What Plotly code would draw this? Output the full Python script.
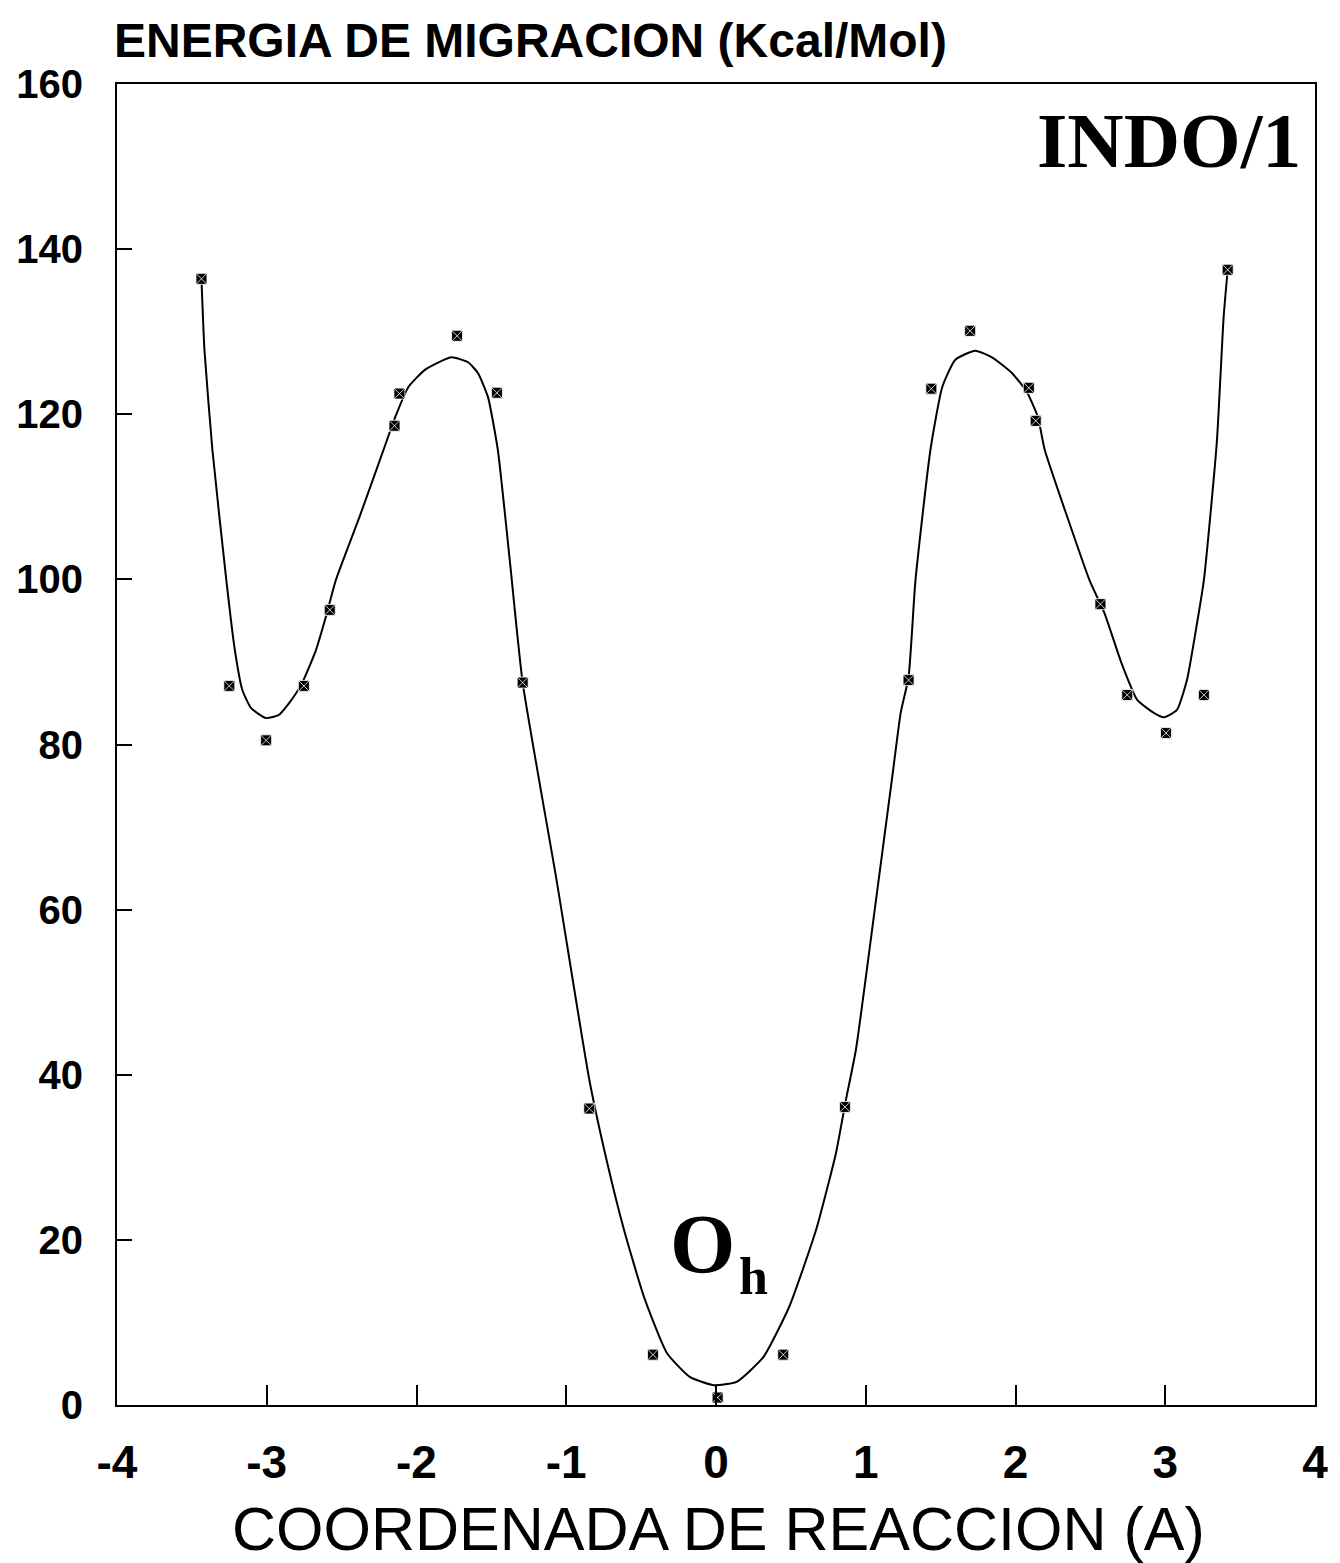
import plotly.graph_objects as go

# Calculated points (markers)
pts_x = [-3.436, -3.25, -3.004, -2.752, -2.579, -2.147, -2.114, -1.729, -1.463, -1.291,
         -0.846, -0.421, 0.011, 0.449, 0.861, 1.286, 1.438, 1.697, 2.089, 2.135,
         2.567, 2.746, 3.005, 3.258, 3.417]
pts_y = [136.4, 87.1, 80.5, 87.1, 96.3, 118.6, 122.5, 129.5, 122.6, 87.5,
         35.9, 6.1, 0.9, 6.1, 36.1, 87.8, 123.1, 130.1, 123.2, 119.2,
         97.0, 86.0, 81.4, 86.0, 137.5]

# Fitted smooth curve
fit_x = [-3.436, -3.416, -3.363, -3.27, -3.216, -3.163, -3.104, -3.004, -2.918, -2.851,
         -2.765, -2.672, -2.606, -2.539, -2.38, -2.22, -2.141, -2.054, -1.942, -1.769,
         -1.656, -1.59, -1.523, -1.457, -1.377, -1.291, -1.065, -0.846, -0.726, -0.614,
         -0.481, -0.328, -0.175, -0.016, 0.137, 0.316, 0.489, 0.668, 0.801, 0.867,
         0.934, 1.06, 1.18, 1.233, 1.286, 1.332, 1.432, 1.511, 1.598, 1.731,
         1.843, 1.976, 2.076, 2.149, 2.195, 2.345, 2.494, 2.594, 2.707, 2.813,
         2.926, 2.992, 3.078, 3.145, 3.205, 3.258, 3.344, 3.39, 3.417]
fit_y = [136.4, 127.8, 115.7, 99.9, 91.8, 86.6, 84.4, 83.2, 83.6, 85.0,
         87.4, 91.4, 95.4, 99.9, 107.6, 115.7, 119.7, 123.3, 125.4, 126.9,
         126.3, 125.0, 122.1, 115.7, 102.3, 87.5, 63.6, 39.4, 29.3, 21.2,
         13.1, 6.3, 3.4, 2.4, 2.8, 5.8, 11.9, 21.2, 30.5, 36.9,
         43.0, 60.0, 76.5, 83.8, 88.2, 99.9, 115.7, 123.3, 126.6, 127.7,
         126.9, 125.0, 122.7, 119.7, 115.7, 107.6, 99.9, 95.9, 89.9, 85.4,
         83.8, 83.3, 84.2, 87.8, 93.9, 99.9, 116.5, 131.8, 137.5]

x_ticks = [-4, -3, -2, -1, 0, 1, 2, 3, 4]
x_tick_text = ["-4", "-3", "-2", "-1", "0", "1", "2", "3", "4"]
y_ticks = [0, 20, 40, 60, 80, 100, 120, 140, 160]
y_tick_text = ["0", "20", "40", "60", "80", "100", "120", "140", "160"]

fig = go.Figure()
fig.add_trace(go.Scatter(x=fit_x, y=fit_y, mode="lines",
                         line=dict(color="black", width=2, shape="spline", smoothing=0.5),
                         showlegend=False, hoverinfo="skip"))
fig.add_trace(go.Scatter(x=pts_x, y=pts_y, mode="markers",
                         marker=dict(symbol="square-x", size=11, color="black",
                                     line=dict(color="white", width=0.8)),
                         showlegend=False))

axis_common = dict(showline=True, linecolor="black", linewidth=2, mirror=True,
                   ticks="inside", tickcolor="black", tickwidth=2,
                   showgrid=False, zeroline=False)

fig.update_xaxes(range=[-4, 4], tickvals=x_ticks,
                 ticktext=["<b>%s</b>" % t for t in x_tick_text], ticklen=20,
                 tickfont=dict(family="Liberation Sans", size=46, color="black"),
                 ticklabelstandoff=16, **axis_common)
fig.update_yaxes(range=[0, 160], tickvals=y_ticks,
                 ticktext=["<b>%s</b>" % t for t in y_tick_text], ticklen=15,
                 tickfont=dict(family="Liberation Sans", size=40, color="black"),
                 ticklabelstandoff=24, **axis_common)

annotations = [
    dict(text="<b>ENERGIA DE MIGRACION (Kcal/Mol)</b>", xref="paper", yref="paper",
         x=-0.004, y=1.033, xanchor="left", yanchor="middle", showarrow=False,
         font=dict(family="Liberation Sans", size=48, color="black")),
    dict(text="COORDENADA DE REACCION (A)", xref="paper", yref="paper",
         x=0.502, y=-0.094, xanchor="center", yanchor="middle", showarrow=False,
         font=dict(family="Liberation Sans", size=61, color="black")),
    dict(text="<b>INDO/1</b>", xref="paper", yref="paper",
         x=0.99, y=0.957, xanchor="right", yanchor="middle", showarrow=False,
         font=dict(family="Liberation Serif", size=78, color="black")),
    dict(text="<b>O</b>", xref="x", yref="y",
         x=-0.09, y=19.4, xanchor="center", yanchor="middle", showarrow=False,
         font=dict(family="Liberation Serif", size=84, color="black")),
    dict(text="<b>h</b>", xref="x", yref="y",
         x=0.25, y=15.6, xanchor="center", yanchor="middle", showarrow=False,
         font=dict(family="Liberation Serif", size=52, color="black")),
]

fig.update_layout(width=1340, height=1563,
                  margin=dict(l=117, r=18, t=84, b=158),
                  paper_bgcolor="white", plot_bgcolor="white",
                  annotations=annotations)

fig.write_html("out.html")
